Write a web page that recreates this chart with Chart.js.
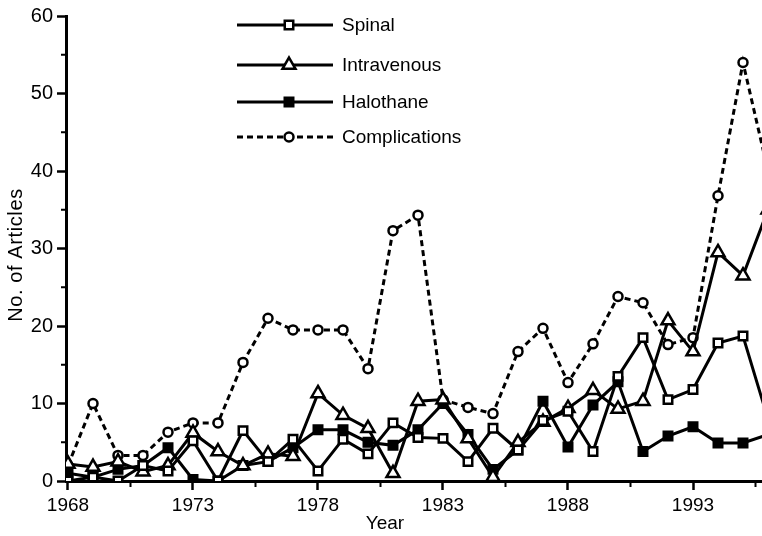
<!DOCTYPE html>
<html>
<head>
<meta charset="utf-8">
<script src="https://cdn.jsdelivr.net/npm/chart.js@4/dist/chart.umd.min.js"></script>
<style>
  html, body { margin: 0; padding: 0; background: #fff; }
  #wrap { width: 762px; height: 536px; position: relative; }
</style>
</head>
<body>
<div id="wrap"><canvas id="articles"></canvas></div>
<script>
// values, one per year 1968..1996 (1996 runs off the right edge)
const years = [1968, 1969, 1970, 1971, 1972, 1973, 1974, 1975, 1976, 1977, 1978, 1979, 1980, 1981, 1982,
               1983, 1984, 1985, 1986, 1987, 1988, 1989, 1990, 1991, 1992, 1993, 1994, 1995, 1996];
const spinal = [0, 0.5, 0, 2, 1.3, 5.2, 0, 6.5, 2.5, 5.4, 1.3, 5.4, 3.5, 7.5, 5.6,
                5.5, 2.5, 6.8, 4, 7.8, 9, 3.8, 13.5, 18.5, 10.5, 11.8, 17.8, 18.7, 8];
const intravenous = [2.2, 1.8, 2.5, 1.2, 2, 6.2, 3.8, 2, 3.5, 3.2, 11.3, 8.5, 6.8, 1, 10.3,
                     10.5, 5.5, 0.5, 5, 7.6, 9.4, 11.7, 9.3, 10.3, 20.7, 16.7, 29.5, 26.5, 35];
const halothane = [1, 0.5, 1.5, 2, 4.3, 0.2, 0, 2, 2.5, 4.3, 6.6, 6.6, 5, 4.6, 6.6,
                   10, 6, 1.5, 4, 10.3, 4.4, 9.8, 12.8, 3.8, 5.8, 7, 4.9, 4.9, 6];
const complications = [2, 10, 3.3, 3.3, 6.3, 7.5, 7.5, 15.3, 21, 19.5, 19.5, 19.5, 14.5, 32.3, 34.3,
                       10.5, 9.5, 8.7, 16.7, 19.7, 12.7, 17.7, 23.8, 23, 17.6, 18.5, 36.8, 54, 40];

const yMajor = [0, 10, 20, 30, 40, 50, 60];
const yMinor = [5, 15, 25, 35, 45, 55];
const xMajor = [1968, 1973, 1978, 1983, 1988, 1993];
const xMinor = [1970.5, 1975.5, 1980.5, 1985.5, 1990.5, 1995.5];

const FONT = '"Liberation Sans", Arial, Helvetica, sans-serif';
const pts = vals => vals.map((v, i) => ({ x: years[i], y: v }));

const series = [
  { label: 'Spinal', data: spinal, style: 'rect', r: 6, fill: '#fff', dash: [] },
  { label: 'Intravenous', data: intravenous, style: 'triangle', r: 7.5, fill: '#fff', dash: [] },
  { label: 'Halothane', data: halothane, style: 'rect', r: 6, fill: '#000', dash: [] },
  { label: 'Complications', data: complications, style: 'circle', r: 4.5, fill: '#fff', dash: [6, 4] }
];
const legendRows = [25, 65, 102, 137];

// legend, axis titles and the short minor ticks
const overlay = {
  id: 'overlay',
  afterDraw(chart) {
    const ctx = chart.ctx;
    const xs = chart.scales.x, ys = chart.scales.y;
    ctx.save();
    ctx.strokeStyle = '#000';
    ctx.lineWidth = 2;
    ctx.beginPath();
    yMinor.forEach(v => {
      const py = ys.getPixelForValue(v);
      ctx.moveTo(xs.left - 5, py); ctx.lineTo(xs.left, py);
    });
    xMinor.forEach(v => {
      const px = xs.getPixelForValue(v);
      ctx.moveTo(px, ys.bottom); ctx.lineTo(px, ys.bottom + 6);
    });
    ctx.stroke();

    series.forEach((s, i) => {
      const y = legendRows[i];
      ctx.lineWidth = 3;
      ctx.setLineDash(s.dash);
      ctx.beginPath();
      ctx.moveTo(237, y); ctx.lineTo(333, y);
      ctx.stroke();
      ctx.setLineDash([]);
      ctx.fillStyle = s.fill;
      ctx.lineWidth = 2.5;
      Chart.helpers.drawPoint(ctx, { pointStyle: s.style, radius: s.r, borderWidth: 2.5, rotation: 0 }, 289, y);
      ctx.fillStyle = '#000';
      ctx.font = '19px ' + FONT;
      ctx.textAlign = 'left';
      ctx.textBaseline = 'middle';
      ctx.fillText(s.label, 342, y + 1);
    });

    ctx.font = '19px ' + FONT;
    ctx.textAlign = 'center';
    ctx.textBaseline = 'middle';
    ctx.fillText('Year', 385, 524);
    ctx.font = '20px ' + FONT;
    ctx.letterSpacing = '0.6px';
    ctx.translate(16, 255);
    ctx.rotate(-Math.PI / 2);
    ctx.fillText('No. of Articles', 0, 0);
    ctx.restore();
  }
};

new Chart(document.getElementById('articles'), {
  type: 'line',
  data: {
    datasets: series.map(s => ({
      label: s.label,
      data: pts(s.data),
      borderColor: '#000',
      borderWidth: 3,
      borderDash: s.dash,
      tension: 0,
      pointStyle: s.style,
      pointRadius: s.r,
      pointBorderWidth: 2.5,
      pointBackgroundColor: s.fill,
      pointBorderColor: '#000'
    }))
  },
  options: {
    responsive: true,
    maintainAspectRatio: false,
    animation: false,
    devicePixelRatio: 1,
    layout: { autoPadding: false, padding: { top: 16, left: 0, right: 0, bottom: 0 } },
    plugins: { legend: { display: false }, tooltip: { enabled: false } },
    scales: {
      x: {
        type: 'linear',
        min: 1967.92,
        max: 1995.76,
        afterFit: s => { s.height = 55; },
        afterBuildTicks: s => { s.ticks = xMajor.map(v => ({ value: v })); },
        border: { display: true, color: '#000', width: 3 },
        grid: { drawOnChartArea: false, color: '#000', tickLength: 9, tickWidth: 2.5 },
        ticks: {
          autoSkip: false, maxRotation: 0, padding: 4, color: '#000',
          font: { family: FONT, size: 19 },
          callback: v => String(v)
        }
      },
      y: {
        min: 0,
        max: 60,
        afterFit: s => { s.width = 66; },
        afterBuildTicks: s => { s.ticks = yMajor.map(v => ({ value: v })); },
        border: { display: true, color: '#000', width: 3 },
        grid: { drawOnChartArea: false, color: '#000', tickLength: 9, tickWidth: 2.5 },
        ticks: {
          padding: 4, color: '#000',
          font: { family: FONT, size: 20 },
          callback: v => String(v)
        }
      }
    }
  },
  plugins: [overlay]
});
</script>
</body>
</html>
